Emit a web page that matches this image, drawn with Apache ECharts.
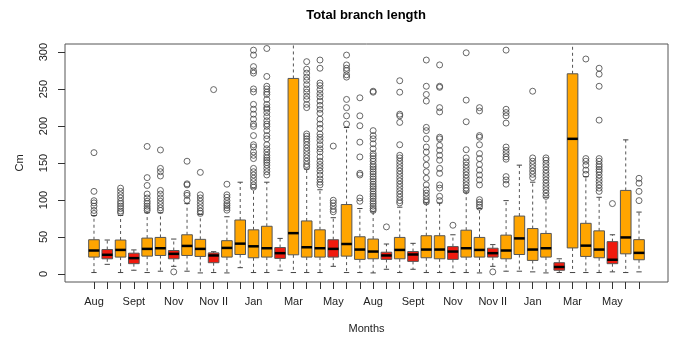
<!DOCTYPE html>
<html><head><meta charset="utf-8">
<script src="https://cdn.jsdelivr.net/npm/echarts@6/dist/echarts.min.js"></script>
<style>html,body{margin:0;padding:0;background:#fff}#c{width:675px;height:339px}</style>
</head><body><div id="c"></div>
<script>
// ---- data ----
const monthLabels = ['Aug','Sept','Nov','Nov II','Jan','Mar','May','Aug','Sept','Nov','Nov II','Jan','Mar','May'];
const yTicks = [0, 50, 100, 150, 200, 250, 300];
// box colour group: O = orange, R = red
const boxColors = ['O','R','O','R','O','O','R','O','O','R','O','O','O','O','R','O','O','O','R','O','O',
                   'O','R','O','R','O','O','R','O','O','R','O','O','O','O','R','O','O','O','R','O','O'];
const lowerWhisker = [1.8,12.9,1.8,4.9,1.8,3.6,10.2,3.6,1.3,1.8,1.3,8.4,1.8,1.8,4.9,1.8,1.8,1.8,10.2,1.8,1.8,
                      1.3,6.2,1.8,6.2,1.8,1.8,1.8,1.8,1.3,10.2,3.6,3.6,2.7,1.3,1.8,1.8,1.8,1.8,2.7,1.8,2.7];
const q1 = [22.7,20.4,22.7,13.8,24,24.9,20.4,24.9,23.6,15.1,22.7,26.2,21.8,22.7,20.9,25.8,22.7,22.7,22.7,24,19.6,
            20.4,19.6,20.4,16.9,21.8,20.4,19.6,22.7,22.7,22.7,20.4,26.2,18.2,22.7,4.9,35.1,23.6,21.8,13.8,27.1,19.1];
const median = [31.6,25.8,32.4,21.3,33.8,34.7,27.1,37.8,33.8,24.9,35.1,40.9,37.3,34.7,28,55.1,36,34.7,33.8,40.4,32.9,
                30.2,24.9,32.4,26.2,32.9,32.9,30.2,34.7,32.4,28,31.6,48,32.9,34.7,9.3,182.7,38.2,32.9,19.1,49.3,28.4];
const q3 = [46.2,32.9,45.8,28,48.4,49.3,31.6,52.9,46.7,28.4,44.9,72.9,59.6,64.4,35.6,264.4,71.6,59.6,46.2,93.8,50.2,
            47.1,29.3,49.3,30.2,51.6,51.6,36.9,59.1,49.3,34.7,52.4,78.2,61.3,54.7,15.1,270.7,68.4,58.2,43.6,112.9,46.3];
const upperWhisker = [79,45.8,79,32.4,82.7,82.7,47.1,95.1,80.4,30,77.3,124,116,124,48,330,141.8,113.8,76,198,88.4,
                      84,40.4,90.2,41.3,96,96,52.9,110.7,88.4,39.6,99.1,147.1,124,103.6,20.4,330,131.6,103.6,52.9,181.3,83.6];
const outliers = [
  [164,111.6,99,96,91.6,85.8,81.8],
  [],
  [116,111.6,107,102.7,98.2,95.1,91.6,88.4,84.9,82.7],
  [],
  [172.4,130.2,119.6,108,102.7,98.2,95.1,91.6,88.4,85.8],
  [167.6,142.7,138.2,132.4,112.9,108,102.7,98.2,93.8,89.3,85.8],
  [2.7],
  [152.4,121.8,120.4,108.9,106.2,99.6],
  [137.3,107,102.7,98.2,93.8,89.3,84.9,81.8],
  [249.3],
  [121.3,107,103.6,99.1,95.1,92.4,89.3,86.2],
  [],
  [302.7,296,280.4,274.7,271.6,250.2,246.2,229.3,222.7,216,209.3,202.7,199.6,187.1,174.7,171.6,164.9,160.4,156,142.7,138.2,133.8,129.3,124.9,120.4,117.3],
  [304.9,267.1,253.8,250.2,245.8,242.7,236,229.3,224.9,222.7,218.2,212.9,207.1,202.7,199.6,193.8,187.1,182.7,174.7,169.3,164.9,160.4,156.9,153.8,150.7,147.1,142.7,138.2,133.8],
  [],
  [],
  [287.1,276.9,271.6,266.2,261.8,256,250.2,245.8,240.4,236,229.3,224.9,189.3,186.2,182.7,179.1,174.7,170.2,165.8,161.3,156.9,152.4,148,144.9],
  [289.3,278.2,258.2,254.7,249.3,244,239.6,233.8,228,222.7,217.3,209.3,202.7,196.9,189.3,184.9,180.4,174.7,169.3,164.9,158.2,152.4,148,143.6,139.1,133.8,128.4,124,120.4],
  [172.9,99.6,96,91.6,87.1,84],
  [296,282.7,278.2,275.1,269.3,266.2,236,224.9,213.8,202.7],
  [238.2,213.8,200.4,178.2,158.2,136,133.8,102.7,98.2],
  [247.1,245.8,193.8,187.1,182.7,176,169.3,162.7,159.6,156,152.4,148,144.9,141.8,138.2,135.1,131.6,128.4,124.9,121.3,118.2,115.1,111.6,108,104.9,101.8,98.2,95.1,91.6,88.4,85.8],
  [63.6],
  [261.3,245.8,216,213.8,204.9,174.7,160.4,156.9,152.4,148,143.6,139.1,134.7,130.2,125.8,121.3,116.9,112.4,108,103.6,99.1,96],
  [],
  [289.3,253.8,242.7,233.8,198.2,193.8,182.7,171.6,164.9,156,147.1,138.2,129.3,120.4,113.8,109.3,104.9,100.4,97.3],
  [282.7,253.8,252.4,224.9,219.1,184.9,182.7,173.8,167.1,160.4,153.8,142.7,136,120.4,116,104.9,99.1],
  [65.8],
  [299.1,235.1,205.8,168,156.9,151.6,147.1,142.7,138.2,133.8,129.3,124.9,120.4,116,112.4],
  [224.9,220.4,187.1,184.9,174.7,162.7,156,148,140.4,133.8,127.1,120.4,100.4,96.9,93.8,90.2],
  [2.7],
  [302.7,222.7,218.2,213.8,204,171.6,167.1,162.7,158.2,155.1,131.6,127.1,121.3],
  [],
  [247.1,156.9,152.4,148,143.6,139.1,134.7,130.2],
  [156.9,153.8,149.3,144.9,140.4,136,131.6,127.1,122.7,118.2,113.8,109.3,104.9],
  [],
  [],
  [290.7,156,152.4,147.1,140.4,134.7],
  [278.2,270.2,253.8,208,156,152.4,148,144.9,141.3,138.2,133.8,129.3,124.9,120.4,116,111.6],
  [95.1],
  [],
  [129.3,122.7,111.6,99.1]
];

// ---- build ----
const ORANGE = '#FFA500', RED = '#F01A0E';
const positions = lowerWhisker.map((_, i) => i + 1);
const boxData = positions.map((p, i) => [p, lowerWhisker[i], q1[i], median[i], q3[i], upperWhisker[i], i]);
const outlierData = [];
outliers.forEach((arr, i) => arr.forEach(v => outlierData.push([i + 1, v])));
const labelPositions = monthLabels.map((_, i) => 1 + 3 * i);

const chart = echarts.init(document.getElementById('c'), null, {renderer: 'canvas'});
const font = 'Liberation Sans, Arial, Helvetica, sans-serif';
chart.setOption({
  animation: false,
  backgroundColor: '#fff',
  textStyle: {fontFamily: font},
  title: {
    text: 'Total branch length', left: 366, top: 9, padding: 0, textAlign: 'center',
    textStyle: {fontSize: 13, fontWeight: 'bold', color: '#000', fontFamily: font}
  },
  grid: {left: 65, top: 44, width: 603, height: 241, show: true, borderColor: '#555', borderWidth: 1,
         backgroundColor: 'transparent', containLabel: false},
  xAxis: {
    type: 'value', min: -1.18, max: 44.18,
    axisLine: {show: false, onZero: false},
    splitLine: {show: false},
    axisTick: {show: true, customValues: positions, length: 7, lineStyle: {color: '#333'}},
    axisLabel: {customValues: labelPositions, formatter: v => monthLabels[Math.round((v - 1) / 3)],
                margin: 14, fontSize: 11, color: '#222', fontFamily: font},
    name: 'Months', nameLocation: 'middle', nameGap: 41,
    nameTextStyle: {fontSize: 11, color: '#222', fontFamily: font}
  },
  yAxis: {
    type: 'value', min: -11, max: 311,
    axisLine: {show: false, onZero: false},
    splitLine: {show: false},
    axisTick: {show: true, customValues: yTicks, length: 7, lineStyle: {color: '#333'}},
    axisLabel: {customValues: yTicks, rotate: 90, margin: 16, fontSize: 11, color: '#222', fontFamily: font},
    name: 'Cm', nameLocation: 'middle', nameGap: 40,
    nameTextStyle: {fontSize: 11, color: '#222', fontFamily: font}
  },
  series: [
    {
      type: 'custom', clip: true, data: boxData,
      encode: {x: 0, y: [1, 2, 3, 4, 5]},
      renderItem: (params, api) => {
        const x = api.value(0);
        const idx = api.value(6);
        const bw = api.size([0.8, 0])[0];
        const sw = api.size([0.4, 0])[0];
        const pLo = api.coord([x, api.value(1)]);
        const pQ1 = api.coord([x, api.value(2)]);
        const pMed = api.coord([x, api.value(3)]);
        const pQ3 = api.coord([x, api.value(4)]);
        const pHi = api.coord([x, api.value(5)]);
        const cx = pLo[0];
        const fill = boxColors[idx] === 'R' ? RED : ORANGE;
        const dash = {stroke: '#555', lineWidth: 1, lineDash: [3, 3]};
        const solid = {stroke: '#444', lineWidth: 1};
        return {type: 'group', children: [
          {type: 'line', shape: {x1: cx, y1: pQ3[1], x2: cx, y2: pHi[1]}, style: dash},
          {type: 'line', shape: {x1: cx, y1: pQ1[1], x2: cx, y2: pLo[1]}, style: dash},
          {type: 'line', shape: {x1: cx - sw / 2, y1: pHi[1], x2: cx + sw / 2, y2: pHi[1]}, style: solid},
          {type: 'line', shape: {x1: cx - sw / 2, y1: pLo[1], x2: cx + sw / 2, y2: pLo[1]}, style: solid},
          {type: 'rect', shape: {x: cx - bw / 2, y: pQ3[1], width: bw, height: pQ1[1] - pQ3[1]},
           style: {fill: fill, stroke: '#555', lineWidth: 1}},
          {type: 'line', shape: {x1: cx - bw / 2, y1: pMed[1], x2: cx + bw / 2, y2: pMed[1]},
           style: {stroke: '#000', lineWidth: 2.5}}
        ]};
      }
    },
    {
      type: 'scatter', data: outlierData, clip: true,
      symbol: 'circle', symbolSize: 6,
      itemStyle: {color: 'rgba(0,0,0,0)', borderColor: '#444', borderWidth: 1}
    }
  ]
});
</script></body></html>
